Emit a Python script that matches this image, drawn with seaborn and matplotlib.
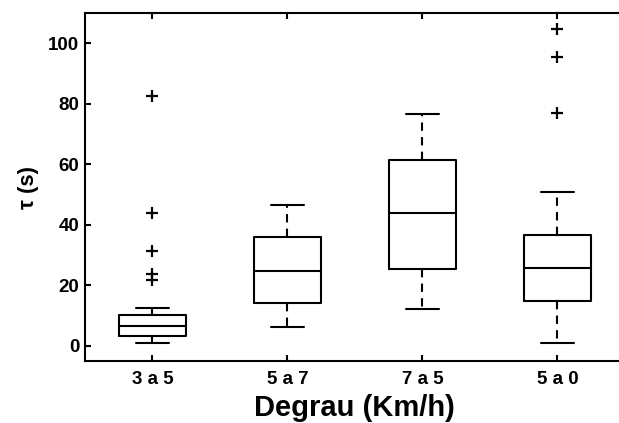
import matplotlib
matplotlib.use('Agg')
import matplotlib.pyplot as plt
import seaborn as sns
import pandas as pd

# Raw samples per step, chosen so the box stats match the figure
g_3a5 = [1.1, 1.8, 2.2, 2.6, 2.9, 3.2, 3.4, 4.0, 4.6, 5.2, 5.8, 6.3, 6.7,
         7.2, 7.8, 8.4, 9.0, 9.6, 10.1, 12.5, 21.7, 23.6, 31.3, 44.0, 82.6]
g_5a7 = [6.3, 9.0, 11.5, 14.1, 17.5, 21.0, 24.9, 28.5, 32.0, 36.0, 39.5, 43.0, 46.7]
g_7a5 = [12.1, 16.5, 21.0, 25.3, 31.0, 37.5, 44.0, 49.5, 55.5, 61.5, 66.5, 71.5, 76.6]
g_5a0 = [0.8, 4.5, 8.0, 11.5, 14.8, 17.5, 20.5, 23.0, 25.8, 28.5, 31.5, 34.0,
         36.8, 51.0, 77.1, 95.3, 104.6]

labels = ['3 a 5', '5 a 7', '7 a 5', '5 a 0']
groups = [g_3a5, g_5a7, g_7a5, g_5a0]

df = pd.DataFrame({
    'Degrau': [lab for lab, g in zip(labels, groups) for _ in g],
    'tau': [v for g in groups for v in g],
})

sns.set_style('ticks')
plt.rcParams['font.family'] = ['Liberation Sans', 'DejaVu Sans']
plt.rcParams['font.weight'] = 'bold'
plt.rcParams['axes.labelweight'] = 'bold'
plt.rcParams['text.color'] = 'k'
plt.rcParams['axes.labelcolor'] = 'k'

fig = plt.figure(figsize=(6.19, 4.23), dpi=100)
# the original frame runs off the right edge of the picture
ax = fig.add_axes([85 / 619, 62 / 423, 567 / 619, 348 / 423])

sns.boxplot(data=df, x='Degrau', y='tau', order=labels, ax=ax,
            fill=False, color='k', width=0.5, linewidth=1.5, whis=1.5,
            whiskerprops=dict(linestyle=(0, (4, 3))),
            flierprops=dict(marker='+', markersize=8, markeredgecolor='k',
                            markeredgewidth=1.6))

ax.set_xlim(-0.5, 3.7)
ax.set_ylim(-5, 110)
ax.set_yticks([0, 20, 40, 60, 80, 100])

for s in ax.spines.values():
    s.set_linewidth(1.5)
    s.set_color('k')
ax.spines['right'].set_visible(False)
ax.tick_params(axis='both', direction='in', length=4, width=1.5,
               top=True, right=False, labelsize=13.5, colors='k')
ax.tick_params(axis='x', pad=7)
ax.tick_params(axis='y', pad=4)

ax.set_xlabel('Degrau (Km/h)', fontsize=21, fontweight='bold')
ax.xaxis.set_label_coords((354 - 85) / 567, -0.095)
ax.xaxis.label.set_verticalalignment('top')
ax.set_ylabel('τ (s)', fontsize=16, fontweight='bold', labelpad=7)

fig.savefig('out.png', dpi=100)
